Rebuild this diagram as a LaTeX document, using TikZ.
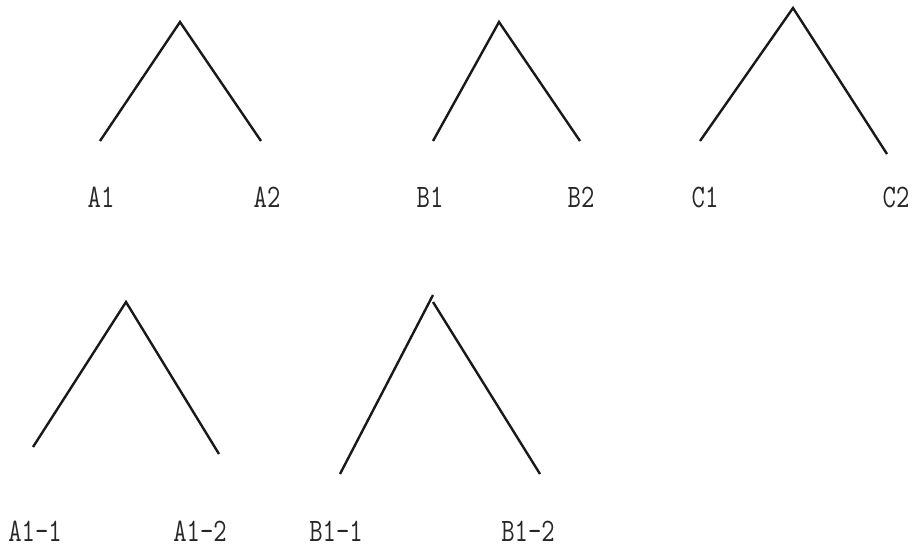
\documentclass[tikz,border=0pt]{standalone}
\usepackage{graphicx}
\begin{document}
\begin{tikzpicture}[
    x=0.5pt, y=-0.5pt,
    branch/.style={line width=1.2pt,black!90},
    leaf/.style={inner sep=0pt,font=\ttfamily\fontsize{16.4}{18}\selectfont,text=black!85}
]
\useasboundingbox (0,0) rectangle (914,547);
\newcommand{\lbl}[1]{\scalebox{0.79}[1]{#1}}
% top row
\coordinate (topA) at (180,22);
\coordinate (endA1) at (100,141);
\coordinate (endA2) at (261,141);
\node[leaf] (labA1) at (101,197) {\lbl{A1}};
\node[leaf] (labA2) at (267,197) {\lbl{A2}};
\draw[branch] (endA1) -- (topA) -- (endA2);
\coordinate (topB) at (499,22);
\coordinate (endB1) at (433,141);
\coordinate (endB2) at (580,141);
\node[leaf] (labB1) at (430,197) {\lbl{B1}};
\node[leaf] (labB2) at (581,197) {\lbl{B2}};
\draw[branch] (endB1) -- (topB) -- (endB2);
\coordinate (topC) at (793,8);
\coordinate (endC1) at (700,141);
\coordinate (endC2) at (887,154);
\node[leaf] (labC1) at (705,197) {\lbl{C1}};
\node[leaf] (labC2) at (896,197) {\lbl{C2}};
\draw[branch] (endC1) -- (topC) -- (endC2);
% bottom row
\coordinate (topA1) at (126,302);
\coordinate (endA11) at (33,447);
\coordinate (endA12) at (219,454);
\node[leaf] (labA11) at (35,531) {\lbl{A1-1}};
\node[leaf] (labA12) at (200,531) {\lbl{A1-2}};
\draw[branch] (endA11) -- (topA1) -- (endA12);
\coordinate (topB1l) at (433,295);
\coordinate (topB1r) at (433,302);
\coordinate (endB11) at (340,474);
\coordinate (endB12) at (540,474);
\node[leaf] (labB11) at (336,531) {\lbl{B1-1}};
\node[leaf] (labB12) at (528,531) {\lbl{B1-2}};
\draw[branch] (endB11) -- (topB1l);
\draw[branch] (topB1r) -- (endB12);
\end{tikzpicture}
\end{document}
